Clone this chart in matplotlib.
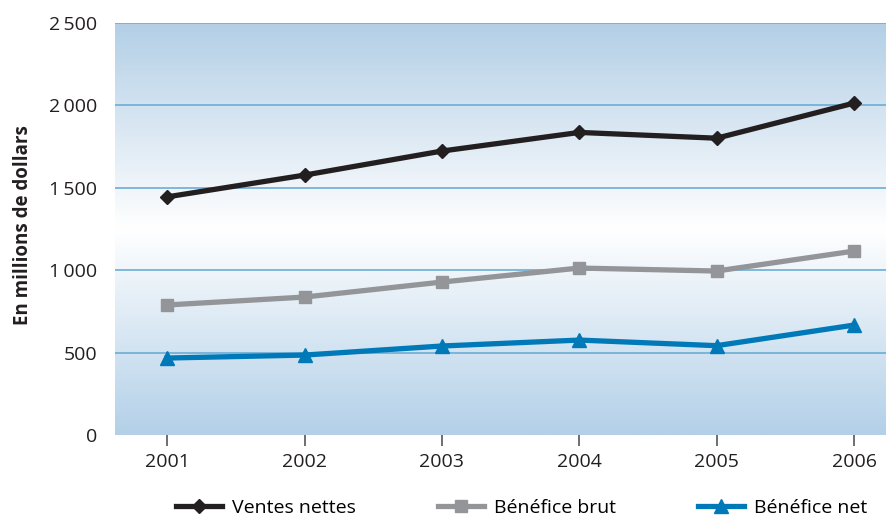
import numpy as np
import matplotlib
matplotlib.use("Agg")
import matplotlib.pyplot as plt
from matplotlib.colors import LinearSegmentedColormap
from matplotlib.lines import Line2D

years = [2001, 2002, 2003, 2004, 2005, 2006]
ventes_nettes = [1445, 1577, 1723, 1836, 1801, 2014]
benefice_brut = [789, 837, 928, 1013, 995, 1116]
benefice_net = [467, 485, 540, 576, 542, 667]
y_ticks = [0, 500, 1000, 1500, 2000, 2500]
y_tick_labels = ["0", "500", "1\u2009000", "1\u2009500", "2\u2009000", "2\u2009500"]

plt.rcParams["font.family"] = ["Open Sans", "DejaVu Sans"]

fig = plt.figure(figsize=(8.87, 5.18), dpi=100)
ax = fig.add_axes([115 / 887, (518 - 435) / 518, (887 - 115) / 887, (435 - 23) / 518])

x0, x1 = 2000.62, 2006.24
ax.set_xlim(x0, x1)
ax.set_ylim(0, 2500)

# vertical gradient background: blue at top and bottom, white band near 1250
cmap = LinearSegmentedColormap.from_list(
    "bg", [(0.0, "#b3d0e8"), (0.5, "#ffffff"), (1.0, "#b3cfe6")])
grad = np.linspace(0, 1, 256).reshape(-1, 1)
ax.imshow(grad, aspect="auto", cmap=cmap, origin="lower",
          extent=[x0, x1, 0, 2500], zorder=0)

for v in y_ticks[1:]:
    ax.axhline(v, color="#6aaed6", lw=1.2, zorder=1)

ax.plot(years, ventes_nettes, color="#231f20", lw=3.8, marker="D", ms=7.5,
        zorder=4)
ax.plot(years, benefice_brut, color="#939598", lw=3.8, marker="s", ms=9,
        zorder=3)
ax.plot(years, benefice_net, color="#0079b8", lw=3.8, marker="^", ms=10,
        zorder=3)

for s in ax.spines.values():
    s.set_visible(False)

ax.set_xticks(years)
ax.set_xticklabels([str(y) for y in years], fontsize=14, color="#231f20")
ax.tick_params(axis="x", length=8, width=1.2, color="#555555", pad=5, direction="out")
ax.set_yticks(y_ticks)
ax.set_yticklabels(y_tick_labels, fontsize=14, color="#231f20")
ax.tick_params(axis="y", length=0, pad=13)

fig.text(23 / 887, 1 - 225 / 518, "En millions de dollars", rotation=90,
         ha="center", va="center", fontsize=13.5, fontweight="bold",
         color="#231f20")

handles = [
    Line2D([0], [0], color="#231f20", lw=3.8, marker="D", ms=7.5),
    Line2D([0], [0], color="#939598", lw=3.8, marker="s", ms=9),
    Line2D([0], [0], color="#0079b8", lw=3.8, marker="^", ms=10),
]
labels = ["Ventes nettes", "Bénéfice brut", "Bénéfice net"]
fig.legend(handles, labels, loc="center", bbox_to_anchor=(0.588, 1 - 508 / 518),
           ncol=3, frameon=False, fontsize=14, handlelength=2.4,
           columnspacing=4.2, handletextpad=0.5)

fig.savefig("out.png", dpi=100)
